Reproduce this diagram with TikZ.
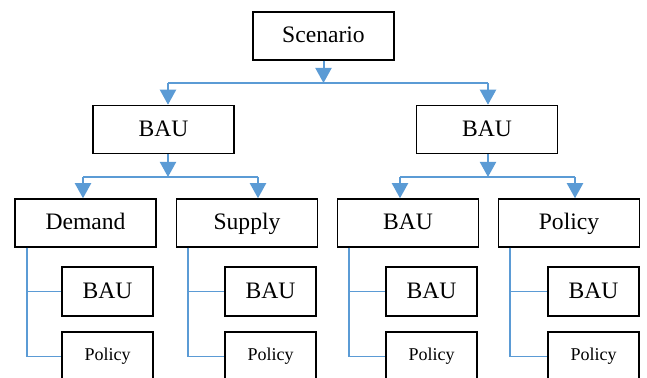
\documentclass[tikz,border=0pt]{standalone}
\usepackage{fontspec}
\setmainfont{Liberation Serif}
\usepackage{tikz}
\usetikzlibrary{arrows.meta}
\definecolor{treeBlue}{HTML}{5B9BD5}
\tikzset{
    bigBox/.style={draw=black, line width=0.75pt, fill=white, inner sep=0pt,
        minimum width=70.5pt, minimum height=24pt, text height=0.66em, text depth=0pt,
        font=\fontsize{11.8}{14}\selectfont},
    subBox/.style={draw=black, line width=0.75pt, fill=white, inner sep=0pt,
        minimum width=45.5pt, minimum height=24.5pt, text height=0.66em, text depth=0pt,
        font=\fontsize{11.8}{14}\selectfont},
    tinyBox/.style={subBox, text depth=2.5pt, font=\fontsize{9}{11}\selectfont},
    blueArrow/.style={draw=treeBlue, line width=1pt,
        -{Triangle[width=8pt,length=7.5pt]}},
    blueLine/.style={draw=treeBlue, line width=1pt},
    branchLine/.style={draw=treeBlue, line width=0.85pt}
}
\begin{document}
\begin{tikzpicture}[x=0.5pt, y=-0.5pt]
	\useasboundingbox (0,0) rectangle (647,378);
	\clip (0,0) rectangle (647,378);
	% top of the tree
	\node[bigBox] (scen) at (323.5,36) {Scenario};
	\node[bigBox] (bauL) at (163.5,129.5) {BAU};
	\node[bigBox] (bauR) at (487,129.5) {BAU};
	% third row
	\node[bigBox] (demand) at (85.5,223) {Demand};
	\node[bigBox] (supply) at (247,223) {Supply};
	\node[bigBox] (bauB) at (408,223) {BAU};
	\node[bigBox] (policyB) at (569,223) {Policy};
	% leaves
	\node[subBox] (demandBau) at (107.5,291.5) {BAU};
	\node[tinyBox] (demandPol) at (107.5,356.5) {Policy};
	\node[subBox] (supplyBau) at (270.5,291.5) {BAU};
	\node[tinyBox] (supplyPol) at (270.5,356.5) {Policy};
	\node[subBox] (bauBau) at (431.5,291.5) {BAU};
	\node[tinyBox] (bauPol) at (431.5,356.5) {Policy};
	\node[subBox] (policyBau) at (593.5,291.5) {BAU};
	\node[tinyBox] (policyPol) at (593.5,356.5) {Policy};
	% bus points
	\coordinate (lArr) at (168,83);
	\coordinate (rArr) at (488,83);
	\coordinate (dArr) at (83,177);
	\coordinate (sArr) at (258,177);
	\coordinate (bArr) at (400,177);
	\coordinate (pArr) at (575,177);
	% scenario -> BAU, BAU
	\draw[blueLine] (lArr) -- (rArr);
	\draw[blueArrow] (scen.south) -- (scen.south |- lArr);
	\draw[blueArrow] (lArr) -- (lArr |- bauL.north);
	\draw[blueArrow] (rArr) -- (rArr |- bauR.north);
	% BAU -> Demand, Supply
	\draw[blueLine] (dArr) -- (sArr);
	\draw[blueArrow] (lArr |- bauL.south) -- (lArr |- dArr);
	\draw[blueArrow] (dArr) -- (dArr |- demand.north);
	\draw[blueArrow] (sArr) -- (sArr |- supply.north);
	% BAU -> BAU, Policy
	\draw[blueLine] (bArr) -- (pArr);
	\draw[blueArrow] (rArr |- bauR.south) -- (rArr |- bArr);
	\draw[blueArrow] (bArr) -- (bArr |- bauB.north);
	\draw[blueArrow] (pArr) -- (pArr |- policyB.north);
	% side branches
	\foreach \parent/\leafA/\leafB in {demand/demandBau/demandPol, supply/supplyBau/supplyPol,
	        bauB/bauBau/bauPol, policyB/policyBau/policyPol}{
		\draw[branchLine] ([xshift=6.25pt]\parent.south west) |- (\leafB.west);
		\draw[branchLine] ([xshift=6.25pt]\parent.south west) |- (\leafA.west);
	}
\end{tikzpicture}
\end{document}
